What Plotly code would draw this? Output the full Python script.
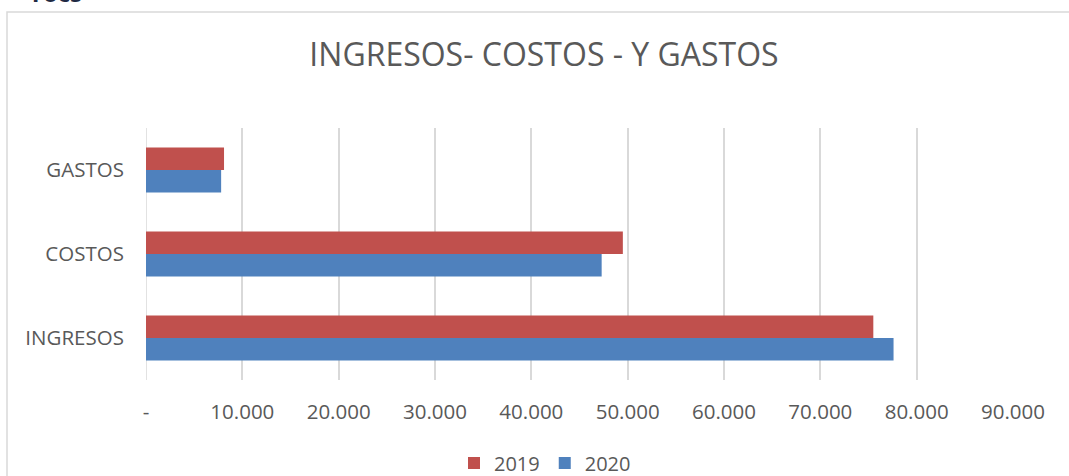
import plotly.graph_objects as go

categories = ["INGRESOS", "COSTOS", "GASTOS"]
values_2019 = [75500, 49500, 8100]
values_2020 = [77600, 47300, 7800]
tick_vals = [0, 10000, 20000, 30000, 40000, 50000, 60000, 70000, 80000, 90000]
tick_text = ["-", "10.000", "20.000", "30.000", "40.000", "50.000",
             "60.000", "70.000", "80.000", "90.000"]

W, H = 1069, 476
L, R, T, B = 146, 56, 128, 96
pw, ph = W - L - R, H - T - B
FONT = "Open Sans"
GREY = "#595959"


def px_x(x):  # page pixel -> paper x
    return (x - L) / pw


def px_y(y):  # page pixel -> paper y
    return (H - B - y) / ph


fig = go.Figure()
# 2020 first so it sits below 2019 inside each group
fig.add_trace(go.Bar(y=categories, x=values_2020, name="2020", orientation="h",
                     marker=dict(color="#4F81BD", line=dict(width=0))))
fig.add_trace(go.Bar(y=categories, x=values_2019, name="2019", orientation="h",
                     marker=dict(color="#C0504D", line=dict(width=0))))

# outer chart frame
fig.add_shape(type="rect", xref="paper", yref="paper",
              x0=px_x(7), x1=px_x(1090), y0=px_y(520), y1=px_y(12),
              line=dict(color="#D9D9D9", width=1.5), fillcolor="rgba(0,0,0,0)",
              layer="below")

# bottom of a heading that sits above the chart, cut off by the page edge
fig.add_annotation(text="<b>rocs</b>", xref="paper", yref="paper",
                   x=px_x(30), y=px_y(11), xanchor="left", yanchor="bottom",
                   showarrow=False, font=dict(family=FONT, size=24, color="#1F2A44"))

fig.update_layout(
    width=W, height=H,
    margin=dict(l=L, r=R, t=T, b=B, autoexpand=False),
    paper_bgcolor="white", plot_bgcolor="white",
    barmode="group", bargap=0.464, bargroupgap=0,
    title=dict(text="INGRESOS- COSTOS - Y GASTOS", x=544 / W, xanchor="center",
               y=1 - 55 / H, yanchor="middle",
               font=dict(family=FONT, size=32, color=GREY)),
    font=dict(family=FONT, color=GREY),
    legend=dict(orientation="h", traceorder="reversed", x=px_x(545), xanchor="center",
                y=px_y(463), yanchor="middle", itemwidth=30,
                font=dict(family=FONT, size=20, color=GREY)),
    xaxis=dict(range=[0, 90000], tickvals=tick_vals, ticktext=tick_text,
               showgrid=True, gridcolor="#D9D9D9", gridwidth=1.5, zeroline=False,
               showline=False, ticks="outside", ticklen=13, tickcolor="rgba(0,0,0,0)",
               tickfont=dict(family=FONT, size=20.5, color=GREY)),
    yaxis=dict(showgrid=False, zeroline=False, showline=False,
               ticks="outside", ticklen=17, tickcolor="rgba(0,0,0,0)",
               tickfont=dict(family=FONT, size=20.5, color=GREY)),
    showlegend=True,
)
fig.add_vline(x=0, line=dict(color="#D9D9D9", width=1.5), layer="below")

# drop the default 8px body margin so the figure fills the window from the corner
fig.write_html("out.html", config={"displayModeBar": False},
               post_script="document.body.style.margin='0px';")
